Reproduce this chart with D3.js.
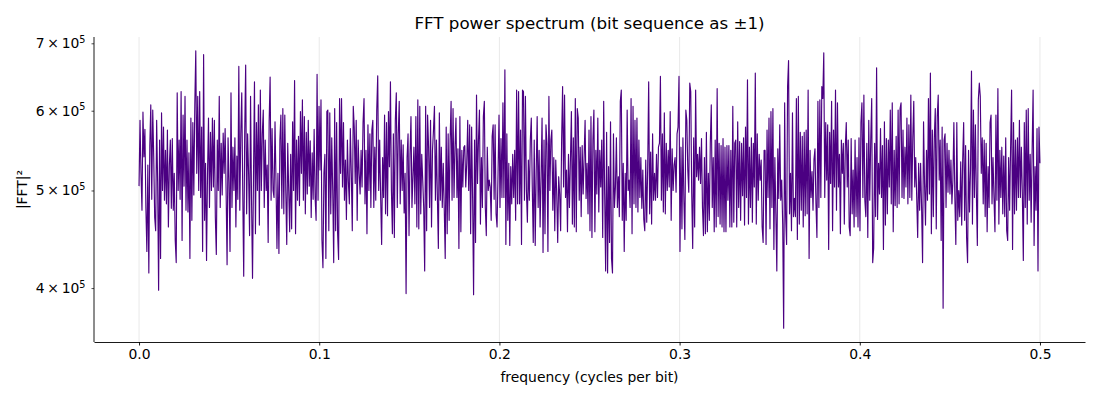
<!DOCTYPE html>
<html><head><meta charset="utf-8">
<script src="https://cdn.jsdelivr.net/npm/d3@7"></script>
<style>
body{margin:0;background:#fff}
text{font-family:"DejaVu Sans",sans-serif;fill:#000}
</style>
</head><body>
<svg id="chart" width="1100" height="400"></svg>
<script>
// |FFT|^2 values, in thousands (evenly spaced frequencies 0 .. 0.5)
const powerK = [
505,587,520,478,598,540,575,480,435,530,414,554,608,490,601,540,470,456,587,510,
398,561,428,597,500,578,489,548,485,574,460,530,561,480,563,478,520,446,424,625,
500,561,490,627,446,594,505,620,478,561,476,545,428,590,467,584,495,608,688,520,
620,500,627,492,578,435,682,467,532,426,520,590,481,571,500,590,504,587,470,432,
561,500,620,481,557,495,570,520,
576,500,422,564,510,435,625,481,552,500,564,460,541,490,664,478,569,625,500,411,
569,666,474,569,520,451,620,490,409,516,641,453,584,500,608,462,629,500,569,601,
481,561,500,530,444,585,648,489,576,500,492,585,510,438,520,433,561,594,480,603,
474,594,500,442,557,500,455,543,458,585,500,643,453,561,489,566,483,599,520,615,
489,592,474,571,496,587,505,560,470,545,490,575,
492,467,652,489,606,524,615,446,419,520,543,428,599,601,456,597,474,564,500,424,
603,456,584,453,427,617,520,617,504,584,489,536,468,561,510,485,576,520,456,606,
578,508,587,467,561,520,496,548,504,584,617,485,548,453,581,500,569,481,574,587,
481,552,489,601,650,500,561,492,442,539,492,594,474,584,472,599,528,641,500,453,
569,449,587,625,481,569,613,485,561,500,555,475,
520,395,539,569,451,543,592,481,516,552,485,592,460,615,458,606,474,543,512,481,
416,606,456,594,552,481,587,460,548,574,606,489,561,492,438,597,489,552,481,532,
481,428,578,453,569,467,561,613,489,603,492,552,590,492,550,438,592,455,548,504,
552,554,504,532,587,500,581,453,578,492,394,561,444,622,508,561,601,463,539,481,
592,613,481,451,552,500,512,504,467,566,581,490,
581,474,460,520,594,481,563,492,611,492,659,442,569,467,532,441,528,485,543,492,
548,467,629,485,627,485,574,442,629,627,489,620,500,465,536,489,561,590,504,444,
561,441,520,592,481,548,460,516,590,434,561,453,581,557,435,620,500,561,574,478,
539,456,536,496,444,516,496,456,561,634,504,622,492,524,455,543,481,536,599,463,
564,460,617,455,603,590,489,552,471,554,496,540,
587,491,532,474,574,456,592,449,561,601,455,548,496,590,476,548,504,561,449,613,
496,416,571,414,528,444,585,428,414,569,481,504,564,481,516,471,613,629,467,532,
435,520,467,601,500,512,481,617,453,606,485,587,481,590,476,561,492,539,480,524,
468,456,536,465,528,641,474,546,463,569,489,520,489,543,492,552,557,649,489,569,
476,597,474,557,500,548,504,599,467,550,500,530,
539,498,569,578,649,435,552,458,564,489,447,601,587,524,498,639,627,496,438,564,
460,629,516,543,512,552,508,563,481,451,539,453,571,455,520,467,557,608,481,539,
455,561,460,631,471,557,463,554,460,563,455,552,455,554,489,554,460,548,460,606,
465,557,561,460,585,481,559,467,557,494,564,462,578,492,644,463,552,481,564,465,
557,504,654,463,569,489,543,512,536,460,444,548,
548,442,574,492,590,458,599,481,603,437,539,474,416,550,491,581,489,512,463,365,
611,471,442,634,673,474,520,456,597,471,491,471,617,447,620,463,571,478,566,460,
571,472,574,474,629,428,548,492,522,478,537,550,485,449,613,481,615,492,634,617,
685,492,584,512,581,437,571,508,613,456,574,504,629,478,611,504,543,453,561,520,
557,463,552,584,504,561,460,451,563,474,524,460,
561,471,539,460,564,456,584,611,492,622,489,471,557,449,587,489,561,617,424,438,
557,471,662,468,532,496,576,492,554,437,585,462,563,474,561,504,601,485,611,455,
548,483,566,481,601,485,603,611,492,574,491,552,504,590,485,581,492,622,489,564,
613,504,539,492,449,532,478,532,481,424,585,508,462,548,489,617,496,654,453,574,
471,564,603,458,592,622,512,561,446,578,382,561,
569,481,557,498,548,496,536,485,512,584,492,442,584,467,500,471,534,462,536,584,
467,554,449,424,548,476,524,657,463,601,492,581,496,441,615,639,620,520,564,485,
561,471,557,455,528,481,584,594,485,539,492,455,594,489,631,463,548,492,552,474,
541,471,564,456,446,539,478,552,629,437,584,474,561,478,564,492,587,492,552,496,
426,584,481,601,463,603,489,543,465,548,629,441,528,478,576,416,578,532
];
const freqStart = 0, freqEnd = 0.5;
const xTickValues = [0, 0.1, 0.2, 0.3, 0.4, 0.5];
const yTickMantissas = [4, 5, 6, 7];
const yTickExponent = 5;
const titleText = "FFT power spectrum (bit sequence as ±1)";
const xLabelText = "frequency (cycles per bit)";
const yLabelText = "|FFT|²";

const n = powerK.length;
const data = powerK.map((v, i) => ({
  f: freqStart + i * (freqEnd - freqStart) / (n - 1),
  p: v * 1000
}));

const L = 94, R = 1085, T = 37, B = 342;
const svg = d3.select("#chart");

const fPad = (freqEnd - freqStart) * 0.05;
const x = d3.scaleLinear().domain([freqStart - fPad, freqEnd + fPad]).range([L, R]);
const [pMin, pMax] = d3.extent(data, d => d.p);
const lp = Math.log10(pMax / pMin) * 0.05;
const y = d3.scaleLog().domain([pMin / Math.pow(10, lp), pMax * Math.pow(10, lp)]).range([B, T]);

// grid
svg.append("g").selectAll("line").data(xTickValues).join("line")
  .attr("x1", d => x(d)).attr("x2", d => x(d))
  .attr("y1", T).attr("y2", B)
  .attr("stroke", "#b0b0b0").attr("stroke-opacity", 0.35).attr("stroke-width", 0.8);

// line
svg.append("path").datum(data)
  .attr("fill", "none").attr("stroke", "#4b0082").attr("stroke-width", 1.15)
  .attr("stroke-linejoin", "round")
  .attr("d", d3.line().x(d => x(d.f)).y(d => y(d.p)));

// x axis
const gx = svg.append("g").attr("transform", `translate(0,${B})`)
  .call(d3.axisBottom(x).tickValues(xTickValues).tickFormat(d3.format(".1f")).tickSize(3.5).tickSizeOuter(0).tickPadding(4));
gx.selectAll("text").attr("font-size", 13.9).attr("font-family", "DejaVu Sans");
gx.select(".domain").attr("stroke-width", 0.9);
gx.selectAll(".tick line").attr("stroke-width", 0.9);

// y axis
const yTickValues = yTickMantissas.map(m => m * Math.pow(10, yTickExponent));
const gy = svg.append("g").attr("transform", `translate(${L},0)`)
  .call(d3.axisLeft(y).tickValues(yTickValues).tickFormat(() => "").tickSize(2.5).tickSizeOuter(0).tickPadding(6));
gy.select(".domain").attr("stroke-width", 0.9).attr("d", `M0,${B}V${T}`);
gy.selectAll(".tick line").attr("stroke-width", 0.7);
gy.selectAll(".tick text").each(function(d) {
  const t = d3.select(this).attr("font-size", 13.9).attr("font-family", "DejaVu Sans");
  const m = Math.round(d / Math.pow(10, yTickExponent));
  t.text(null);
  t.append("tspan").text(`${m}\u2009×\u200910`);
  t.append("tspan").attr("font-size", 9.7).attr("dy", "-0.55em").text(`${yTickExponent}`);
});

// labels
svg.append("text").attr("x", (L + R) / 2).attr("y", 29).attr("text-anchor", "middle")
  .attr("font-size", 16.7).text(titleText);
svg.append("text").attr("x", (L + R) / 2).attr("y", 382).attr("text-anchor", "middle")
  .attr("font-size", 13.9).text(xLabelText);
svg.append("text").attr("transform", `translate(27,${(T + B) / 2}) rotate(-90)`)
  .attr("text-anchor", "middle").attr("font-size", 13.9).text(yLabelText);
</script>
</body></html>
